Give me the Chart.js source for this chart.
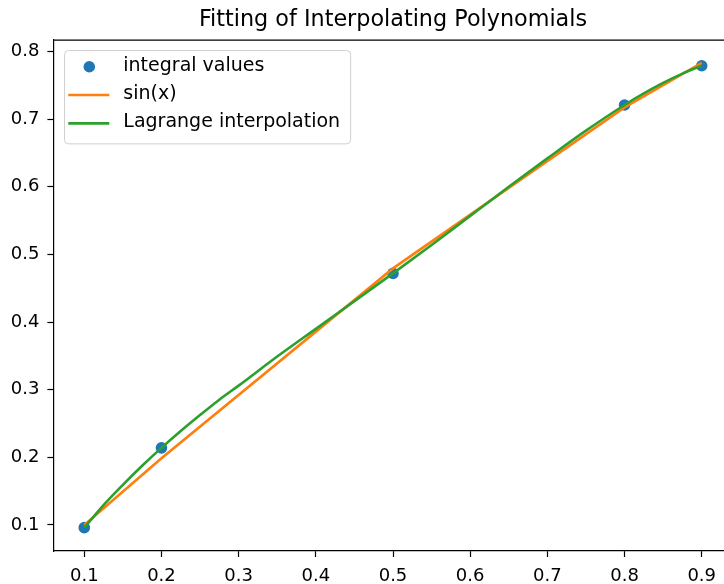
<!DOCTYPE html>
<html>
<head>
<meta charset="utf-8">
<title>Fitting of Interpolating Polynomials</title>
<script src="https://cdn.jsdelivr.net/npm/chart.js@4.4.1/dist/chart.umd.min.js"></script>
<style>
  html, body { margin: 0; padding: 0; background: #fff; overflow: hidden; }
  #wrap { width: 724px; height: 584px; overflow: hidden; }
</style>
</head>
<body>
<div id="wrap"><canvas id="fitChart" width="748" height="584"></canvas></div>
<script>
// các nút nội suy
var xNodes = [0.1, 0.2, 0.5, 0.8, 0.9];
// giá trị tích phân tại các nút (chấm xanh)
var integralValues = [0.096, 0.214, 0.472, 0.721, 0.779];
// sin(x) tại các nút (đường cam)
var sinValues = [0.0998, 0.1987, 0.4794, 0.7174, 0.7833];
// đường nội suy Lagrange
var lagrangeX = [0.1, 0.125, 0.15, 0.175, 0.2, 0.225, 0.25, 0.275, 0.3, 0.35, 0.4, 0.45, 0.5,
                 0.55, 0.6, 0.65, 0.7, 0.75, 0.8, 0.825, 0.85, 0.875, 0.9];
var lagrangeY = [0.096, 0.1294, 0.1593, 0.1876, 0.214, 0.2389, 0.2625, 0.2852, 0.306, 0.349, 0.390, 0.431, 0.472,
                 0.514, 0.557, 0.600, 0.642, 0.683, 0.721, 0.7381, 0.7536, 0.7674, 0.779];
// vạch chia trục
var xTicks = [0.1, 0.2, 0.3, 0.4, 0.5, 0.6, 0.7, 0.8, 0.9];
var yTicks = [0.1, 0.2, 0.3, 0.4, 0.5, 0.6, 0.7, 0.8];

var FONT = "'DejaVu Sans', 'Liberation Sans', sans-serif";

function toPoints(xs, ys) {
  return xs.map(function (x, i) { return { x: x, y: ys[i] }; });
}

// khung trên + phải như matplotlib
var frame = {
  id: 'frame',
  afterDraw: function (chart) {
    var ctx = chart.ctx, a = chart.chartArea;
    ctx.save();
    ctx.strokeStyle = '#000';
    ctx.lineWidth = 1.2;
    ctx.beginPath();
    ctx.moveTo(a.left, a.top);
    ctx.lineTo(a.right, a.top);
    ctx.lineTo(a.right, a.bottom);
    ctx.stroke();
    ctx.restore();
  }
};

// chú thích kiểu matplotlib, nằm trong vùng vẽ
var mplLegend = {
  id: 'mplLegend',
  afterDraw: function (chart) {
    var ctx = chart.ctx, a = chart.chartArea;
    var sets = chart.data.datasets;
    ctx.save();
    ctx.font = '19px ' + FONT;
    var maxW = 0;
    sets.forEach(function (d) { maxW = Math.max(maxW, ctx.measureText(d.label).width); });
    var left = a.left + 10.6, top = a.top + 10;
    var w = 59.3 + maxW + 10, h = 93.3, r = 4;
    ctx.beginPath();
    ctx.roundRect(left + 0.5, top + 0.5, w, h, r);
    ctx.fillStyle = 'rgba(255,255,255,0.8)';
    ctx.fill();
    ctx.strokeStyle = '#d0d0d0';
    ctx.lineWidth = 1;
    ctx.stroke();
    sets.forEach(function (d, i) {
      var cy = top + 16.7 + i * 28.3;
      if (d.showLine === false) {
        ctx.beginPath();
        ctx.arc(left + 25.3, cy, d.pointRadius, 0, Math.PI * 2);
        ctx.fillStyle = d.backgroundColor;
        ctx.fill();
      } else {
        ctx.beginPath();
        ctx.moveTo(left + 4.3, cy);
        ctx.lineTo(left + 45.3, cy);
        ctx.strokeStyle = d.borderColor;
        ctx.lineWidth = d.borderWidth;
        ctx.stroke();
      }
      ctx.fillStyle = '#000';
      ctx.textBaseline = 'middle';
      ctx.textAlign = 'left';
      ctx.fillText(d.label, left + 59.3, cy - 0.8);
    });
    ctx.restore();
  }
};

function axis(ticks, min, max, isX) {
  return {
    type: 'linear',
    min: min,
    max: max,
    afterBuildTicks: function (scale) {
      scale.ticks = ticks.map(function (v) { return { value: v }; });
    },
    afterFit: function (scale) {
      if (isX) scale.height = 33; else scale.width = 53.4;
    },
    grid: {
      display: true,
      drawOnChartArea: false,
      drawTicks: true,
      tickLength: 6,
      tickColor: '#000',
      tickWidth: 1.2
    },
    border: { display: true, color: '#000', width: 1.2 },
    ticks: {
      color: '#000',
      padding: isX ? 9 : 8,
      font: { family: FONT, size: 18 },
      callback: function (v) { return Number(v).toFixed(1); }
    }
  };
}

new Chart(document.getElementById('fitChart'), {
  type: 'scatter',
  data: {
    datasets: [{
      label: 'integral values',
      data: toPoints(xNodes, integralValues),
      showLine: false,
      pointRadius: 5.8,
      pointBorderWidth: 0,
      backgroundColor: '#1f77b4',
      borderColor: '#1f77b4',
      order: 3
    }, {
      label: 'sin(x)',
      data: toPoints(xNodes, sinValues),
      showLine: true,
      pointRadius: 0,
      borderColor: '#ff7f0e',
      backgroundColor: '#ff7f0e',
      borderWidth: 2.6,
      tension: 0,
      order: 2
    }, {
      label: 'Lagrange interpolation',
      data: toPoints(lagrangeX, lagrangeY),
      showLine: true,
      pointRadius: 0,
      borderColor: '#2ca02c',
      backgroundColor: '#2ca02c',
      borderWidth: 2.6,
      cubicInterpolationMode: 'monotone',
      order: 1
    }]
  },
  options: {
    responsive: false,
    animation: false,
    layout: { padding: { left: 0, top: 0, right: 15.4, bottom: 0 } },
    scales: {
      x: axis(xTicks, 0.06, 0.94, true),
      y: axis(yTicks, 0.0615, 0.817, false)
    },
    plugins: {
      legend: { display: false },
      tooltip: { enabled: false },
      title: {
        display: true,
        text: 'Fitting of Interpolating Polynomials',
        fullSize: false,
        color: '#000',
        font: { family: FONT, size: 22.3, weight: 'normal' },
        padding: { top: 7.3, bottom: 6.0 }
      }
    }
  },
  plugins: [frame, mplLegend]
});
</script>
</body>
</html>
